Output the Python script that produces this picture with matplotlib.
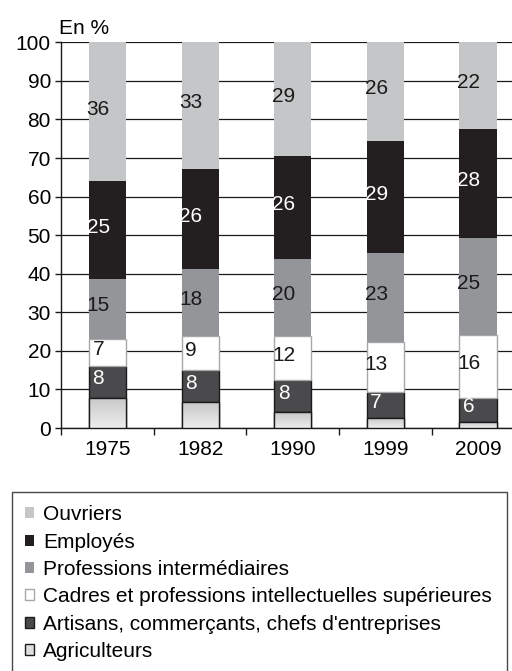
import matplotlib
matplotlib.use('Agg')
import matplotlib.pyplot as plt
import numpy as np

plt.rcParams['font.family'] = ['Liberation Sans', 'DejaVu Sans']

annees = ['1975', '1982', '1990', '1999', '2009']

# bar heights (in %)
agriculteurs = [7.9, 6.7, 4.1, 2.6, 1.6]
artisans = [8.3, 8.4, 8.3, 6.7, 6.3]
cadres = [7.0, 8.8, 11.5, 13.1, 16.3]
prof_inter = [15.5, 17.4, 20.0, 23.0, 25.1]
employes = [25.3, 25.9, 26.7, 29.1, 28.2]
ouvriers = [36.0, 32.8, 29.4, 25.5, 22.5]

# printed labels
lab_artisans = [8, 8, 8, 7, 6]
lab_cadres = [7, 9, 12, 13, 16]
lab_prof_inter = [15, 18, 20, 23, 25]
lab_employes = [25, 26, 26, 29, 28]
lab_ouvriers = [36, 33, 29, 26, 22]

W, H = 512, 671
FS = 15
fig = plt.figure(figsize=(W / 100, H / 100), dpi=100)
ax = fig.add_axes([61.3 / W, 243 / H, 463 / W, 385.7 / H])

x = np.arange(len(annees))
bw = 0.4

series = [
    ('Agriculteurs', agriculteurs, '#dedede', '#1a1a1a', None, None),
    ("Artisans, commerçants, chefs d'entreprises", artisans, '#4a4a4c', '#1a1a1a', lab_artisans, 'white'),
    ('Cadres et professions intellectuelles supérieures', cadres, 'white', '#a8a8a8', lab_cadres, '#1a1a1a'),
    ('Professions intermédiaires', prof_inter, '#939598', 'none', lab_prof_inter, '#1a1a1a'),
    ('Employés', employes, '#231f20', 'none', lab_employes, 'white'),
    ('Ouvriers', ouvriers, '#c5c6c8', 'none', lab_ouvriers, '#1a1a1a'),
]

bottom = np.zeros(len(annees))
handles = []
for name, vals, fc, ec, labs, tc in series:
    vals = np.array(vals)
    bars = ax.bar(x, vals, bw, bottom=bottom, color=fc, edgecolor=ec,
                  linewidth=1.0, label=name, zorder=3)
    handles.append(bars)
    if name == 'Agriculteurs':
        # light vertical gradient inside the bars
        grad = np.linspace(0.93, 0.78, 50).reshape(-1, 1)
        for rect in bars:
            im = ax.imshow(grad, cmap='gray', vmin=0, vmax=1, aspect='auto',
                           origin='lower', zorder=3.5,
                           extent=[rect.get_x(), rect.get_x() + rect.get_width(),
                                   rect.get_y(), rect.get_y() + rect.get_height()])
            im.set_clip_path(rect)
            ax.add_patch(plt.Rectangle((rect.get_x(), rect.get_y()), rect.get_width(),
                                       rect.get_height(), fill=False, edgecolor=ec,
                                       linewidth=1.0, zorder=4))
    if labs is not None:
        for xi, b, v, lab in zip(x, bottom, vals, labs):
            ax.text(xi - 0.1, b + v / 2 + 0.7, str(lab), ha='center', va='center',
                    color=tc, fontsize=FS, zorder=5)
    bottom = bottom + vals

ax.set_xlim(-0.5, 4.5)
ax.set_ylim(0, 100)
ax.set_yticks(range(0, 101, 10))
ax.set_xticks(x)
ax.set_xticklabels(annees)
ax.set_xticks(np.arange(-0.5, 5, 1), minor=True)
ax.tick_params(axis='x', which='major', length=0, pad=8.5, labelsize=FS)
ax.tick_params(axis='x', which='minor', length=5, width=1, color='#1a1a1a')
ax.tick_params(axis='y', length=4, width=1, pad=3.5, labelsize=FS, color='#1a1a1a')
ax.yaxis.grid(True, color='#1a1a1a', linewidth=0.9)
ax.set_axisbelow(True)
for s in ['top', 'right']:
    ax.spines[s].set_visible(False)
for s in ['left', 'bottom']:
    ax.spines[s].set_color('#1a1a1a')
    ax.spines[s].set_linewidth(1.0)

fig.text(59 / W, 1 - 28 / H, 'En %', fontsize=FS, ha='left', va='center')

leg = fig.legend(handles[::-1], [s[0] for s in series][::-1],
                 loc='upper left', bbox_to_anchor=(11.7 / W, 0, 495 / W, 1 - 492.3 / H),
                 mode='expand', borderaxespad=0, fontsize=FS, frameon=True,
                 fancybox=False, edgecolor='#1a1a1a', handlelength=0.45,
                 handleheight=0.45, handletextpad=0.45, labelspacing=0.4,
                 borderpad=0.62)
leg.get_frame().set_linewidth(1.0)

fig.savefig('out.png', dpi=100)
